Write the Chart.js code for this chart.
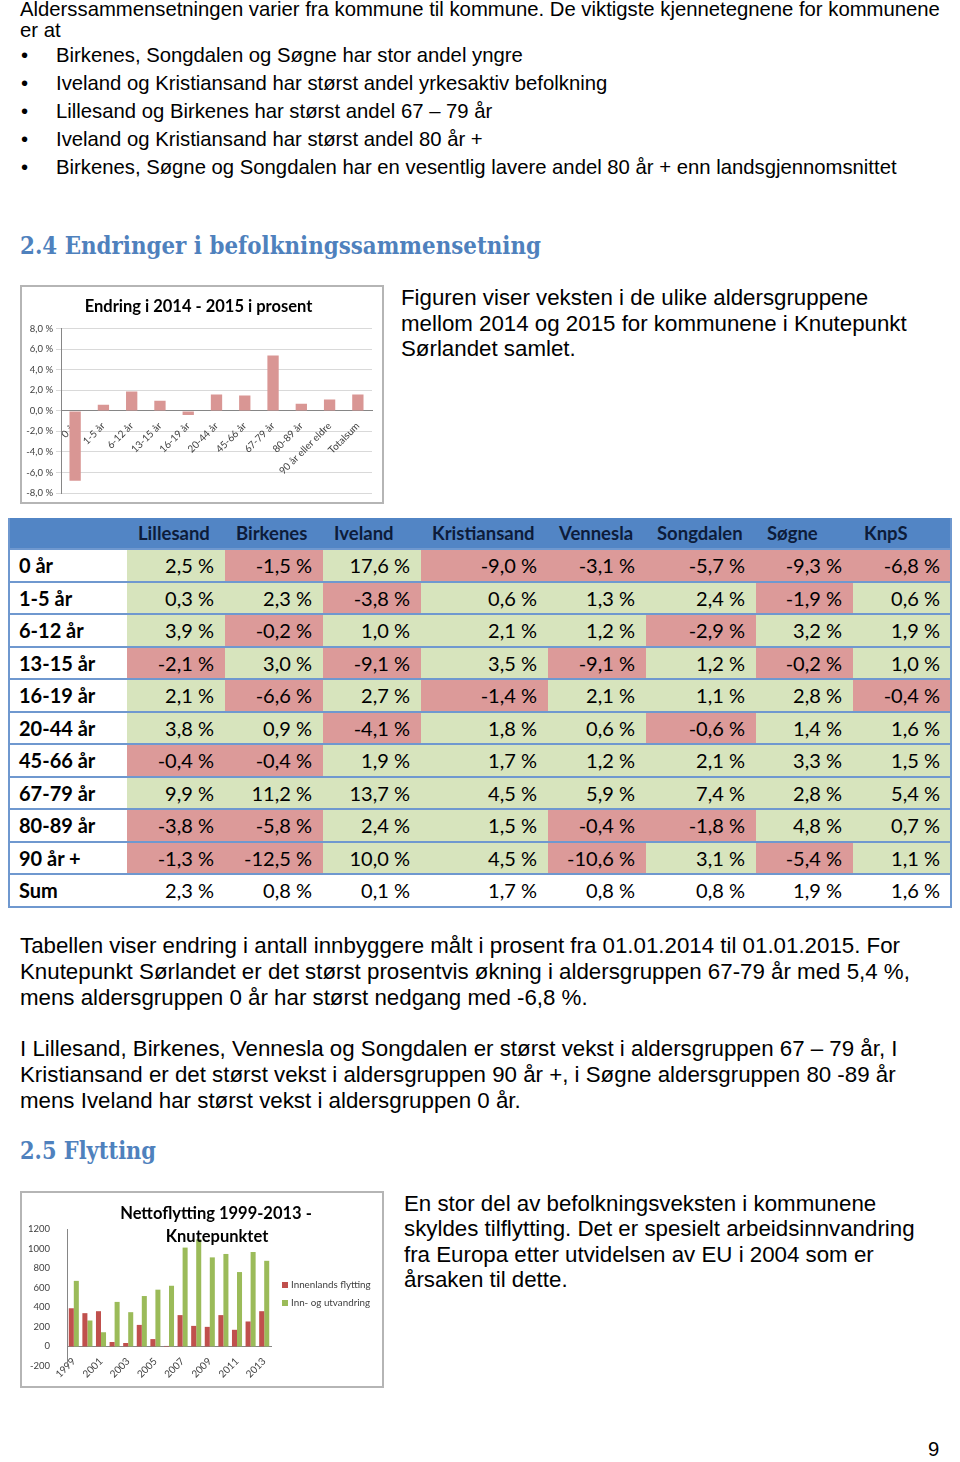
<!DOCTYPE html>
<html><head><meta charset="utf-8">
<script src="https://cdn.jsdelivr.net/npm/chart.js@4.4.1/dist/chart.umd.min.js"></script>
<style>
html,body{margin:0;padding:0;background:#fff;}
body{width:960px;height:1462px;position:relative;overflow:hidden;font-family:"Liberation Sans",Arial,sans-serif;color:#000;}
.t{position:absolute;white-space:nowrap;font-size:20.3px;line-height:26px;}
.r{position:absolute;white-space:nowrap;font-size:22.3px;line-height:26px;}
.h{position:absolute;white-space:nowrap;font-family:"DejaVu Serif","Liberation Serif",serif;font-weight:bold;color:#4f81bd;font-size:25px;line-height:32px;transform-origin:0 50%;}
.box{position:absolute;border:2px solid #b5b5b5;box-sizing:border-box;background:#fff;}
.box canvas{position:absolute;left:0;top:0;}
.cell{position:absolute;box-sizing:border-box;font-family:Lato,"Open Sans",sans-serif;white-space:nowrap;}
</style></head>
<body>
<div class="t" style="left:20px;top:-4px;">Alderssammensetningen varier fra kommune til kommune. De viktigste kjennetegnene for kommunene</div>
<div class="t" style="left:20px;top:17px;">er at</div>
<div class="t" style="left:21px;top:42px;">•</div><div class="t" style="left:56px;top:42px;">Birkenes, Songdalen og Søgne har stor andel yngre</div>
<div class="t" style="left:21px;top:70px;">•</div><div class="t" style="left:56px;top:70px;">Iveland og Kristiansand har størst andel yrkesaktiv befolkning</div>
<div class="t" style="left:21px;top:98px;">•</div><div class="t" style="left:56px;top:98px;">Lillesand og Birkenes har størst andel 67 – 79 år</div>
<div class="t" style="left:21px;top:126px;">•</div><div class="t" style="left:56px;top:126px;">Iveland og Kristiansand har størst andel 80 år +</div>
<div class="t" style="left:21px;top:154px;">•</div><div class="t" style="left:56px;top:154px;">Birkenes, Søgne og Songdalen har en vesentlig lavere andel 80 år + enn landsgjennomsnittet</div>

<div class="h" data-w="521" style="left:20px;top:230px;">2.4 Endringer i befolkningssammensetning</div>

<div class="box" style="left:20px;top:285px;width:364px;height:219px;"><canvas id="c1" width="360" height="215"></canvas></div>

<div class="r" style="left:401px;top:285px;">Figuren viser veksten i de ulike aldersgruppene</div>
<div class="r" style="left:401px;top:311px;">mellom 2014 og 2015 for kommunene i Knutepunkt</div>
<div class="r" style="left:401px;top:336px;">Sørlandet samlet.</div>

<div id="tbl"></div>

<div class="r" style="left:20px;top:933px;">Tabellen viser endring i antall innbyggere målt i prosent fra 01.01.2014 til 01.01.2015. For</div>
<div class="r" style="left:20px;top:959px;">Knutepunkt Sørlandet er det størst prosentvis økning i aldersgruppen 67-79 år med 5,4 %,</div>
<div class="r" style="left:20px;top:985px;">mens aldersgruppen 0 år har størst nedgang med -6,8 %.</div>
<div class="r" style="left:20px;top:1036px;">I Lillesand, Birkenes, Vennesla og Songdalen er størst vekst i aldersgruppen 67 – 79 år, I</div>
<div class="r" style="left:20px;top:1062px;">Kristiansand er det størst vekst i aldersgruppen 90 år +, i Søgne aldersgruppen 80 -89 år</div>
<div class="r" style="left:20px;top:1088px;">mens Iveland har størst vekst i aldersgruppen 0 år.</div>

<div class="h" data-w="136" style="left:20px;top:1135px;">2.5 Flytting</div>

<div class="box" style="left:20px;top:1191px;width:364px;height:197px;"><canvas id="c2" width="360" height="193"></canvas></div>

<div class="r" style="left:404px;top:1191px;">En stor del av befolkningsveksten i kommunene</div>
<div class="r" style="left:404px;top:1216px;">skyldes tilflytting. Det er spesielt arbeidsinnvandring</div>
<div class="r" style="left:404px;top:1242px;">fra Europa etter utvidelsen av EU i 2004 som er</div>
<div class="r" style="left:404px;top:1267px;">årsaken til dette.</div>

<div class="t" style="left:928px;top:1436px;">9</div>

<script>
// ---- Data ----
const ageGroups = ['0 år','1-5 år','6-12 år','13-15 år','16-19 år','20-44 år','45-66 år','67-79 år','80-89 år','90 år +','Sum'];
const chartAgeLabels = ['0 år','1-5 år','6-12 år','13-15 år','16-19 år','20-44 år','45-66 år','67-79 år','80-89 år','90 år eller eldre','Totalsum'];
const municipalities = ['Lillesand','Birkenes','Iveland','Kristiansand','Vennesla','Songdalen','Søgne','KnpS'];
const lillesand    = [2.5, 0.3, 3.9, -2.1, 2.1, 3.8, -0.4, 9.9, -3.8, -1.3, 2.3];
const birkenes     = [-1.5, 2.3, -0.2, 3.0, -6.6, 0.9, -0.4, 11.2, -5.8, -12.5, 0.8];
const iveland      = [17.6, -3.8, 1.0, -9.1, 2.7, -4.1, 1.9, 13.7, 2.4, 10.0, 0.1];
const kristiansand = [-9.0, 0.6, 2.1, 3.5, -1.4, 1.8, 1.7, 4.5, 1.5, 4.5, 1.7];
const vennesla     = [-3.1, 1.3, 1.2, -9.1, 2.1, 0.6, 1.2, 5.9, -0.4, -10.6, 0.8];
const songdalen    = [-5.7, 2.4, -2.9, 1.2, 1.1, -0.6, 2.1, 7.4, -1.8, 3.1, 0.8];
const sogne        = [-9.3, -1.9, 3.2, -0.2, 2.8, 1.4, 3.3, 2.8, 4.8, -5.4, 1.9];
const knps         = [-6.8, 0.6, 1.9, 1.0, -0.4, 1.6, 1.5, 5.4, 0.7, 1.1, 1.6];

const years = ['1999','2000','2001','2002','2003','2004','2005','2006','2007','2008','2009','2010','2011','2012','2013'];
const innenlandsFlytting = [390, 340, 360, 45, 35, 220, 75, 5, 320, 210, 200, 320, 170, 255, 360];
const innOgUtvandring = [670, 265, 145, 455, 350, 515, 580, 620, 1010, 1095, 910, 945, 760, 965, 875];
const chart1Title = 'Endring i 2014 - 2015 i prosent';
const chart2Title = ['Nettoflytting 1999-2013 -', 'Knutepunktet'];

// ---- Table ----
const fmt = v => v.toFixed(1).replace('.', ',') + ' %';
(function buildTable(){
  const host = document.getElementById('tbl');
  const colX = [9,127,225,323,421,548,646,756,853,951];
  const top0 = 518, headH = 31, rowH = 32.5;
  const cols = [lillesand,birkenes,iveland,kristiansand,vennesla,songdalen,sogne,knps];
  let html = '';
  html += `<div class="cell" style="left:${colX[0]}px;top:${top0}px;width:${colX[9]-colX[0]}px;height:${headH}px;background:#5285c5;"></div>`;
  municipalities.forEach((m,j)=>{
    html += `<div class="cell" style="left:${colX[j+1]}px;top:${top0}px;width:${colX[j+2]-colX[j+1]}px;height:${headH}px;line-height:${headH}px;padding-left:11px;font-weight:bold;font-size:18.5px;color:#0d1c3a;">${m}</div>`;
  });
  ageGroups.forEach((g,i)=>{
    const y = top0 + headH + i*rowH;
    html += `<div class="cell" style="left:${colX[0]}px;top:${y}px;width:${colX[1]-colX[0]}px;height:${rowH}px;line-height:${rowH}px;padding-left:10px;font-weight:bold;font-size:20px;background:#fff;">${g}</div>`;
    cols.forEach((c,j)=>{
      const v = c[i];
      const bg = (i === ageGroups.length-1) ? '#fff' : (v < 0 ? '#dc9a99' : '#d7e4bd');
      html += `<div class="cell" style="left:${colX[j+1]}px;top:${y}px;width:${colX[j+2]-colX[j+1]}px;height:${rowH}px;line-height:${rowH}px;padding-right:11px;text-align:right;font-size:20px;background:${bg};">${fmt(v)}</div>`;
    });
    html += `<div class="cell" style="left:${colX[0]}px;top:${y-1}px;width:${colX[9]-colX[0]}px;height:2px;background:#6f98cf;"></div>`;
  });
  const yEnd = top0 + headH + ageGroups.length*rowH;
  html += `<div class="cell" style="left:${colX[0]}px;top:${yEnd-1}px;width:${colX[9]-colX[0]}px;height:2px;background:#6f98cf;"></div>`;
  html += `<div class="cell" style="left:${colX[0]-1}px;top:${top0}px;width:2px;height:${yEnd-top0+1}px;background:#6f98cf;"></div>`;
  html += `<div class="cell" style="left:${colX[9]-1}px;top:${top0}px;width:2px;height:${yEnd-top0+1}px;background:#6f98cf;"></div>`;
  host.innerHTML = html;
})();

// ---- Headings fit ----
document.querySelectorAll('[data-w]').forEach(el=>{
  const w = el.getBoundingClientRect().width;
  el.style.transform = 'scaleX(' + (parseFloat(el.dataset.w)/w) + ')';
});

// ---- Charts ----
Chart.defaults.font.family = 'Lato, "Open Sans", sans-serif';
Chart.defaults.color = '#404040';

new Chart(document.getElementById('c1'), {
  type: 'bar',
  data: { labels: chartAgeLabels, datasets: [{ data: knps, backgroundColor: '#d99694', categoryPercentage: 1, barPercentage: 0.4 }] },
  options: {
    responsive: false, animation: false, devicePixelRatio: 1,
    layout: { padding: { left: 3, right: 10, top: 0, bottom: 9 } },
    plugins: {
      legend: { display: false }, tooltip: { enabled: false },
      title: { display: true, text: chart1Title, color: '#000', font: { size: 16.5, weight: 'bold' }, padding: { top: 10, bottom: 12 } }
    },
    scales: {
      x: { position: { y: 0 }, z: 1, grid: { display: false }, border: { display: true, color: '#868686' },
           ticks: { autoSkip: false, maxRotation: 45, minRotation: 45, font: { size: 10 }, color: '#404040', padding: 1 },
           afterFit: s => { s.height = 0; } },
      y: { min: -8, max: 8, grid: { color: '#d9d9d9', tickLength: 5 }, border: { color: '#868686' },
           ticks: { stepSize: 2, padding: 3, font: { size: 9.5 }, color: '#404040', callback: v => v.toFixed(1).replace('.', ',') + ' %' },
           afterFit: s => { s.width = 36; } }
    }
  }
});

new Chart(document.getElementById('c2'), {
  type: 'bar',
  data: { labels: years, datasets: [
    { label: 'Innenlands flytting', data: innenlandsFlytting, backgroundColor: '#c0504d', categoryPercentage: 0.74, barPercentage: 1 },
    { label: 'Inn- og utvandring', data: innOgUtvandring, backgroundColor: '#9bbb59', categoryPercentage: 0.74, barPercentage: 1 }
  ] },
  options: {
    responsive: false, animation: false, devicePixelRatio: 1,
    layout: { padding: { left: 0, right: 111, top: 36, bottom: 20 } },
    plugins: {
      tooltip: { enabled: false },
      legend: { display: false }
    },
    scales: {
      x: { position: { y: 0 }, z: 1, grid: { display: false }, border: { display: true, color: '#868686' },
           ticks: { autoSkip: false, maxRotation: 45, minRotation: 45, font: { size: 10 }, color: '#404040', padding: 1,
                    callback: (v, i) => (i % 2 === 0 ? years[i] : '') },
           afterFit: s => { s.height = 0; } },
      y: { min: -200, max: 1200, grid: { display: false }, border: { color: '#868686' },
           ticks: { stepSize: 200, padding: 9, font: { size: 9.5 }, color: '#404040', callback: v => String(v) },
           afterFit: s => { s.width = 45; } }
    }
  },
  plugins: [{
    id: 'overlayTitleLegend',
    afterDraw(chart) {
      const ctx = chart.ctx;
      const area = chart.chartArea;
      ctx.save();
      ctx.font = 'bold 16.5px Lato, "Open Sans", sans-serif';
      ctx.fillStyle = '#000';
      ctx.textAlign = 'center';
      ctx.textBaseline = 'middle';
      ctx.fillText(chart2Title[0], 194, 21);
      ctx.fillText(chart2Title[1], 195, 44);
      // legend
      const x0 = area.right + 11;
      ctx.font = '9.8px Lato, "Open Sans", sans-serif';
      ctx.textAlign = 'left';
      chart.data.datasets.forEach((ds, i) => {
        const y = 92 + i * 18;
        ctx.fillStyle = ds.backgroundColor;
        ctx.fillRect(x0, y - 3, 6, 6);
        ctx.fillStyle = '#404040';
        ctx.fillText(ds.label, x0 + 9, y);
      });
      ctx.restore();
    }
  }]
});
</script>
</body></html>
